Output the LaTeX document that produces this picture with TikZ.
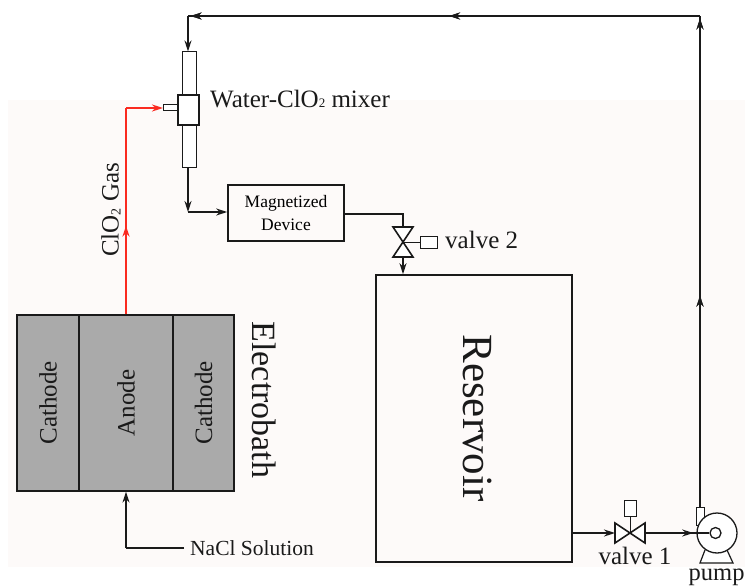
\documentclass[tikz,border=0pt]{standalone}
\usepackage{fontspec}
\setmainfont{Liberation Serif}
\usepackage{xcolor}
\usetikzlibrary{arrows.meta,positioning,shapes,calc,decorations.markings}
\definecolor{ink}{HTML}{1A1A1A}
\definecolor{tint}{HTML}{FDFAF9}
\definecolor{cellgray}{HTML}{AAAAAA}
\definecolor{gasred}{HTML}{FA2A20}
\newcommand{\pxfont}[1]{\fontsize{#1}{#1}\selectfont}
\tikzset{
  cellbox/.style={draw=ink,fill=cellgray,line width=1.3pt,minimum height=176pt,
                  inner sep=0pt,font=\pxfont{25},text=ink},
  plainbox/.style={draw=ink,line width=1.6pt,inner sep=0pt,align=center},
  thinbox/.style={draw=ink,line width=1.0pt,inner sep=0pt,fill=white},
  label/.style={inner sep=0pt,text=ink},
  pipe/.style={line width=1.6pt,color=ink},
  gaspipe/.style={line width=2pt,color=gasred},
  tipat/.style={postaction={decorate},decoration={markings,
      mark=at position #1 with {\arrow{Stealth[length=11pt,width=7pt]}}}},
  flowarr/.style={-{Stealth[length=11pt,width=7pt]},line width=1.6pt,color=ink},
  gasarr/.style={-{Stealth[length=11pt,width=7pt]},line width=2pt,color=gasred},
  valveline/.style={line width=1.6pt,color=ink}
}
\begin{document}
\begin{tikzpicture}[x=1pt,y=-1pt]
  \useasboundingbox (0,0) rectangle (745,586);
  \fill[white] (0,0) rectangle (745,586);
  \fill[tint] (8,100) rectangle (745,567);

  % electrobath
  \node[cellbox,minimum width=62pt] (cathodeL) at (48,403) {\rotatebox{90}{Cathode}};
  \node[cellbox,minimum width=94pt] (anode) at (126,403) {\rotatebox{90}{Anode}};
  \node[cellbox,minimum width=61pt] (cathodeR) at (203.5,403) {\rotatebox{90}{Cathode}};
  \node[label,font=\pxfont{34},rotate=-90] (bath) at (264,400) {Electrobath};
  \node[label,font=\pxfont{21.5},anchor=west] (nacl) at (190,548) {NaCl Solution};

  % mixer
  \node[thinbox,minimum width=14pt,minimum height=115pt] (tube) at (189,109.5) {};
  \node[thinbox,line width=1.6pt,minimum width=21pt,minimum height=30pt] (mixer) at (188.5,110) {};
  \node[thinbox,minimum width=14pt,minimum height=6pt,anchor=east] (inlet) at (178,108) {};
  \node[label,font=\pxfont{25},anchor=west] (mixtext) at (210,99) {Water-ClO{\pxfont{13}2} mixer};

  % device
  \node[plainbox,minimum width=116pt,minimum height=56pt,font=\pxfont{17.5}] (device) at (286,213)
    {Magnetized\\[5pt]Device};

  % reservoir
  \node[plainbox,minimum width=196pt,minimum height=287pt] (tank) at (474,418.5) {};
  \node[label,font=\pxfont{43},rotate=-90] (tanktext) at (478,418) {Reservoir};

  % valve 2
  \coordinate (vtwo) at (403,242);
  \draw[valveline,fill=white] (393,227) -- (413,227) -- (393,257) -- (413,257) -- cycle;
  \node[thinbox,minimum width=17pt,minimum height=12pt] (acttwo) at (428.5,242) {};
  \draw[line width=1pt,color=ink] (vtwo) -- (acttwo);
  \node[label,font=\pxfont{25},anchor=west] (vtwotext) at (445,240) {valve 2};
  \coordinate (vtwoin) at (403,227);
  \coordinate (vtwoout) at (403,257);

  % valve 1
  \coordinate (vone) at (630,533);
  \draw[valveline,fill=white] (615,523) -- (615,543) -- (645,523) -- (645,543) -- cycle;
  \node[thinbox,minimum width=12pt,minimum height=16pt] (actone) at (630,508) {};
  \draw[line width=1pt,color=ink] (vone) -- (actone);
  \node[label,font=\pxfont{25}] (vonetext) at (635,556) {valve 1};
  \coordinate (voneout) at (645,533);
  \coordinate (vonein) at (615,533);

  % pump
  \draw[line width=1.2pt,color=ink,fill=white] (705,550) -- (700,563) -- (733,563) -- (727,550);
  \node[thinbox,minimum width=8pt,minimum height=18pt] (outlet) at (700,516) {};
  \node[draw=ink,fill=white,circle,line width=1.3pt,minimum size=40pt,inner sep=0pt] (pump) at (717,533) {};
  \node[draw=ink,fill=white,circle,line width=1.3pt,minimum size=11pt,inner sep=0pt] (impeller) at (715.5,533) {};
  \node[label,font=\pxfont{24.5},anchor=west] (pumptext) at (688.5,577) {pump};

  % connectors
  \coordinate (gasB) at (126,108);
  \draw[gaspipe,tipat=0.43] (anode.north) -- (gasB);
  \draw[gasarr] (gasB) -- (inlet.west);
  \node[label,font=\pxfont{25},rotate=90] (gastext) at (111,210) {ClO{\pxfont{14}\raisebox{-2pt}{2}} Gas};

  \coordinate (naclB) at (126,548);
  \draw[pipe] (nacl.west) ++(-6,0) coordinate (naclA) -- (naclB);
  \draw[flowarr] (naclB) -- (anode.south);

  \coordinate (topR) at (700,16);
  \coordinate (topL) at (188,16);
  \draw[pipe,tipat=0.43,tipat=0.995] (outlet.north) -- (topR);
  \draw[pipe,tipat=0.49,tipat=0.995] (topR) -- (topL);
  \draw[flowarr] (topL) -- (tube.north -| topL);

  \coordinate (devL) at (188,212);
  \draw[flowarr] (tube.south -| devL) -- (devL);
  \draw[flowarr] (devL) -- (devL -| device.west);
  \coordinate (devR) at (403,214);
  \draw[pipe] (device.east |- devR) -- (devR) -- (vtwoin);
  \draw[flowarr] (vtwoout) -- (vtwoout |- tank.north);

  \draw[flowarr] (tank.east |- vone) -- (vonein);
  \draw[pipe,tipat=0.75] (voneout) -- (impeller.west);
\end{tikzpicture}
\end{document}
